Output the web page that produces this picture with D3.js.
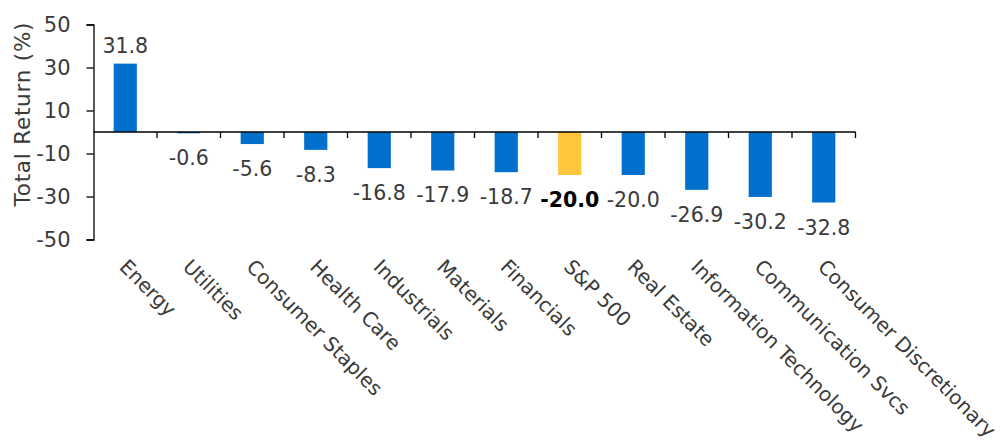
<!DOCTYPE html>
<html>
<head>
<meta charset="utf-8">
<script src="https://d3js.org/d3.v7.min.js"></script>
<style>
  html, body { margin: 0; padding: 0; background: #fff; }
  svg { display: block; }
  text { font-family: "DejaVu Sans", sans-serif; fill: #3a3a3a; }
</style>
</head>
<body>
<div id="chart"></div>
<script>
const categories = ["Energy", "Utilities", "Consumer Staples", "Health Care", "Industrials", "Materials", "Financials", "S&P 500", "Real Estate", "Information Technology", "Communication Svcs", "Consumer Discretionary"];
const values = [31.8, -0.6, -5.6, -8.3, -16.8, -17.9, -18.7, -20.0, -20.0, -26.9, -30.2, -32.8];
const highlight = ["S&P 500"];
const yTicks = [50, 30, 10, -10, -30, -50];
const yTitle = "Total Return (%)";

const W = 1005, H = 444;
const mLeft = 93.5, mRight = 855.5;
const mTop = 24.5, mBottom = 239.5;

const svg = d3.select("#chart").append("svg").attr("width", W).attr("height", H);

const x = d3.scaleBand().domain(categories).range([mLeft, mRight]).paddingInner(0.635).paddingOuter(0.3175);
const xb = d3.scaleBand().domain(categories).range([mLeft, mRight]);
const y = d3.scaleLinear().domain([-50, 50]).range([mBottom, mTop]);

// bars
svg.append("g").selectAll("rect").data(categories).join("rect")
  .attr("x", d => x(d))
  .attr("width", x.bandwidth())
  .attr("y", (d, i) => y(Math.max(0, values[i])))
  .attr("height", (d, i) => Math.abs(y(values[i]) - y(0)))
  .attr("fill", d => highlight.includes(d) ? "#FFC53D" : "#0070CC");

// y axis
const yAxis = d3.axisLeft(y).tickValues(yTicks).tickSize(7).tickPadding(16).tickFormat(d => String(d));
const gy = svg.append("g").attr("transform", `translate(${mLeft},0)`).call(yAxis);
gy.select(".domain").attr("stroke", "#000").attr("stroke-width", 1.3);
gy.selectAll(".tick line").attr("stroke", "#000").attr("stroke-width", 1.3);
gy.selectAll(".tick text").style("font-size", "21px").style("font-family", "DejaVu Sans, sans-serif").style("fill", "#3a3a3a");

// x axis at zero with ticks at category boundaries
const zeroY = y(0);
const gx = svg.append("g");
gx.append("line").attr("x1", mLeft).attr("x2", mRight).attr("y1", zeroY).attr("y2", zeroY)
  .attr("stroke", "#000").attr("stroke-width", 1.3);
const bounds = categories.map(c => xb(c) + xb.bandwidth());
gx.selectAll("line.tk").data(bounds).join("line").attr("class", "tk")
  .attr("x1", d => d).attr("x2", d => d).attr("y1", zeroY).attr("y2", zeroY + 6)
  .attr("stroke", "#000").attr("stroke-width", 1.3);

// value labels
svg.append("g").selectAll("text").data(categories).join("text")
  .attr("x", d => x(d) + x.bandwidth() / 2)
  .attr("y", (d, i) => values[i] >= 0 ? y(values[i]) - 10.5 : y(values[i]) + 32)
  .attr("text-anchor", "middle")
  .style("font-size", "20.5px")
  .style("font-weight", d => highlight.includes(d) ? "bold" : "normal")
  .style("fill", d => highlight.includes(d) ? "#000" : "#3a3a3a")
  .text((d, i) => values[i].toFixed(1));

// category labels rotated 45deg
svg.append("g").selectAll("text").data(categories).join("text")
  .attr("transform", d => `translate(${xb(d) + xb.bandwidth() / 2 + 5},256) rotate(45)`)
  .attr("dy", "0.85em")
  .attr("text-anchor", "start")
  .style("font-size", "20px")
  .text(d => d);

// y title
svg.append("text")
  .attr("transform", `translate(30,114.5) rotate(-90)`)
  .attr("text-anchor", "middle")
  .attr("textLength", 184)
  .attr("lengthAdjust", "spacing")
  .style("font-size", "21.5px")
  .text(yTitle);
</script>
</body>
</html>
